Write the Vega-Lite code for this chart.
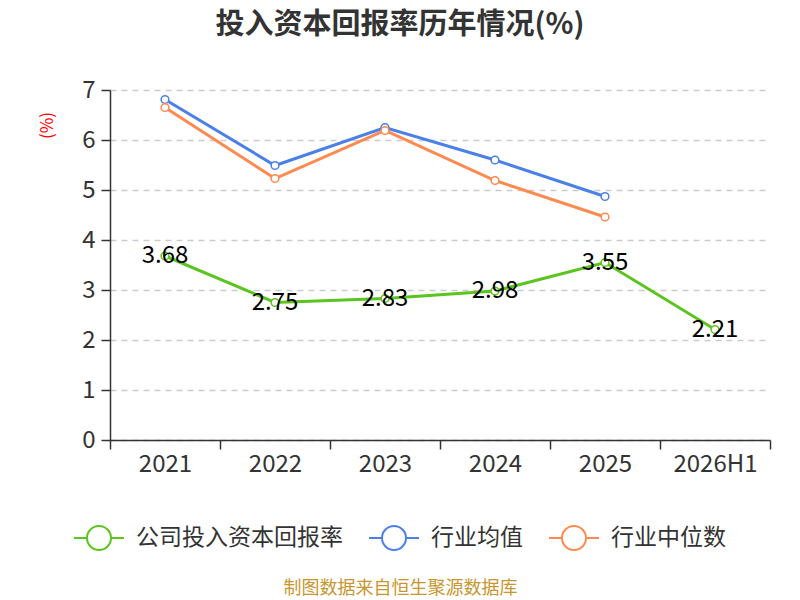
{
  "$schema": "https://vega.github.io/schema/vega-lite/v6.json",
  "autosize": "none",
  "width": 660,
  "height": 350,
  "padding": {"left": 110, "top": 90, "right": 30, "bottom": 160},
  "background": "white",
  "config": {
    "font": "Noto Sans CJK SC",
    "view": {"stroke": null}
  },
  "title": {
    "text": "投入资本回报率历年情况(%)",
    "fontSize": 29,
    "fontWeight": "bold",
    "color": "#333333",
    "anchor": "middle",
    "dx": -40,
    "offset": 38
  },
  "data": {
    "values": [
      {"year": "2021", "series": "公司投入资本回报率", "value": 3.68},
      {"year": "2022", "series": "公司投入资本回报率", "value": 2.75},
      {"year": "2023", "series": "公司投入资本回报率", "value": 2.83},
      {"year": "2024", "series": "公司投入资本回报率", "value": 2.98},
      {"year": "2025", "series": "公司投入资本回报率", "value": 3.55},
      {"year": "2026H1", "series": "公司投入资本回报率", "value": 2.21},
      {"year": "2021", "series": "行业均值", "value": 6.81},
      {"year": "2022", "series": "行业均值", "value": 5.49},
      {"year": "2023", "series": "行业均值", "value": 6.25},
      {"year": "2024", "series": "行业均值", "value": 5.6},
      {"year": "2025", "series": "行业均值", "value": 4.87},
      {"year": "2021", "series": "行业中位数", "value": 6.65},
      {"year": "2022", "series": "行业中位数", "value": 5.23},
      {"year": "2023", "series": "行业中位数", "value": 6.19},
      {"year": "2024", "series": "行业中位数", "value": 5.19},
      {"year": "2025", "series": "行业中位数", "value": 4.46}
    ]
  },
  "encoding": {
    "x": {
      "field": "year",
      "type": "nominal",
      "sort": null,
      "scale": {"paddingInner": 0, "paddingOuter": 0},
      "axis": {
        "labelAngle": 0,
        "labelFontSize": 24,
        "labelColor": "#333333",
        "labelPadding": 3,
        "tickBand": "extent",
        "tickSize": 9,
        "tickColor": "#333333",
        "tickWidth": 1.5,
        "domainColor": "#333333",
        "domainWidth": 1.5,
        "grid": false,
        "title": "制图数据来自恒生聚源数据库",
        "titleColor": "#c8962e",
        "titleFontSize": 18,
        "titleFontWeight": "normal",
        "titleX": 290,
        "titleY": 148,
        "titleAlign": "center",
        "titleBaseline": "middle"
      }
    },
    "y": {
      "field": "value",
      "type": "quantitative",
      "scale": {"domain": [0, 7]},
      "axis": {
        "values": [0, 1, 2, 3, 4, 5, 6, 7],
        "labelFontSize": 24,
        "labelColor": "#333333",
        "labelPadding": 6,
        "tickSize": 9,
        "tickColor": "#333333",
        "tickWidth": 1.5,
        "domainColor": "#333333",
        "domainWidth": 1.5,
        "gridColor": "#cccccc",
        "gridDash": [6, 5],
        "gridWidth": 1.5,
        "title": "(%)",
        "titleColor": "#ff0000",
        "titleFontSize": 17,
        "titleFontWeight": "normal",
        "titleAngle": -90,
        "titleX": -63,
        "titleY": 35,
        "titleAlign": "center",
        "titleBaseline": "middle"
      }
    }
  },
  "layer": [
    {
      "mark": {
        "type": "line",
        "strokeWidth": 3,
        "point": {"filled": false, "fill": "white", "size": 60, "strokeWidth": 1.5}
      },
      "encoding": {
        "color": {
          "field": "series",
          "type": "nominal",
          "scale": {
            "domain": ["公司投入资本回报率", "行业均值", "行业中位数"],
            "range": ["#5bc41e", "#4b80e8", "#ff8a50"]
          },
          "legend": {
            "title": null,
            "orient": "none",
            "direction": "horizontal",
            "legendX": -37,
            "legendY": 422,
            "symbolType": "M-1,0H-0.48M0.48,0H1M-0.48,0A0.48,0.48 0 1 0 0.48,0A0.48,0.48 0 1 0 -0.48,0Z",
            "symbolSize": 2500,
            "symbolStrokeWidth": 2,
            "symbolFillColor": "white",
            "labelFontSize": 23,
            "labelLimit": 400,
            "labelColor": "#333333",
            "labelOffset": 11,
            "columnPadding": 22,
            "encode": {"symbols": {"update": {"fill": {"value": "white"}}}}
          }
        }
      }
    },
    {
      "transform": [{"filter": "datum.series === '公司投入资本回报率'"}],
      "mark": {
        "type": "text",
        "fontSize": 24,
        "color": "#000000",
        "baseline": "middle",
        "align": "center"
      },
      "encoding": {
        "text": {"field": "value", "type": "quantitative", "format": ".2f"}
      }
    }
  ]
}
